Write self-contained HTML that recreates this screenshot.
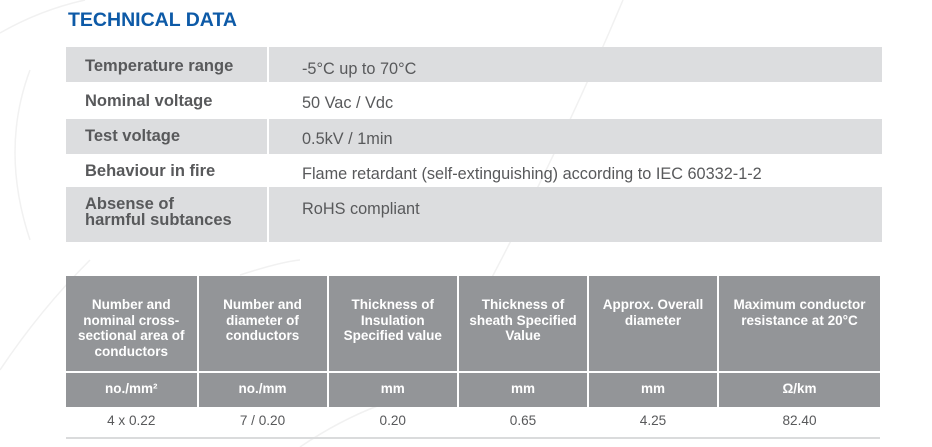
<!DOCTYPE html>
<html>
<head>
<meta charset="utf-8">
<style>
  html, body { margin:0; padding:0; }
  body { width:932px; height:447px; position:relative; overflow:hidden; background:#ffffff;
         font-family:"Liberation Sans", sans-serif; }
  .abs { position:absolute; }
  .title { left:68px; top:8px; font-size:19.5px; line-height:24px; font-weight:bold; color:#0d5aa7; white-space:nowrap; }
  .g { background:#dcdddf; }
  .lbl { left:85px; font-size:16.5px; line-height:20px; font-weight:bold; color:#58595b; white-space:nowrap; }
  .val { left:302px; font-size:16.3px; line-height:20px; color:#58595b; white-space:nowrap; }
  .hd { background:#939598; }
  .ht { color:#ffffff; font-weight:bold; font-size:13.5px; line-height:15.6px; text-align:center; white-space:nowrap; }
  .ut { color:#ffffff; font-weight:bold; font-size:13.5px; line-height:35px; text-align:center; white-space:nowrap; }
  .dt { color:#58595b; font-size:13.6px; line-height:20px; text-align:center; white-space:nowrap; }
</style>
</head>
<body>
<svg class="abs" style="left:0;top:0" width="932" height="447">
  <g fill="none" stroke="#f1f1f1" stroke-width="1.5">
    <path d="M0,33 Q40,10 85,0"/>
    <path d="M30,70 Q0,150 30,240"/>
    <path d="M623,0 Q560,150 480,300"/>
    <path d="M90,260 Q40,310 0,370"/>
    <path d="M240,275 Q280,262 300,260"/>
    <path d="M300,447 Q340,420 380,405"/>
  </g>
</svg>

<div class="abs title">TECHNICAL DATA</div>

<!-- top table -->
<div class="abs g" style="left:66px;top:47px;width:201px;height:35px"></div>
<div class="abs g" style="left:269px;top:47px;width:613px;height:35px"></div>
<div class="abs g" style="left:66px;top:119px;width:201px;height:35px"></div>
<div class="abs g" style="left:269px;top:119px;width:613px;height:35px"></div>
<div class="abs g" style="left:66px;top:187px;width:201px;height:55px"></div>
<div class="abs g" style="left:269px;top:187px;width:613px;height:55px"></div>

<div class="abs lbl" style="top:55.5px">Temperature range</div>
<div class="abs lbl" style="top:90.5px">Nominal voltage</div>
<div class="abs lbl" style="top:125.5px">Test voltage</div>
<div class="abs lbl" style="top:161px">Behaviour in fire</div>
<div class="abs lbl" style="top:195.5px;line-height:16.7px">Absense of<br>harmful subtances</div>

<div class="abs val" style="top:58.5px">-5°C up to 70°C</div>
<div class="abs val" style="top:93px">50 Vac / Vdc</div>
<div class="abs val" style="top:128.5px">0.5kV / 1min</div>
<div class="abs val" style="top:163.5px">Flame retardant (self-extinguishing) according to IEC 60332-1-2</div>
<div class="abs val" style="top:198.5px">RoHS compliant</div>

<!-- bottom table -->
<div class="abs hd" style="left:66px;top:276px;width:130.5px;height:94.5px"></div>
<div class="abs hd" style="left:198.5px;top:276px;width:128px;height:94.5px"></div>
<div class="abs hd" style="left:328.5px;top:276px;width:128.5px;height:94.5px"></div>
<div class="abs hd" style="left:459px;top:276px;width:128px;height:94.5px"></div>
<div class="abs hd" style="left:589px;top:276px;width:128px;height:94.5px"></div>
<div class="abs hd" style="left:719px;top:276px;width:161px;height:94.5px"></div>

<div class="abs hd" style="left:66px;top:372.5px;width:130.5px;height:34.5px"></div>
<div class="abs hd" style="left:198.5px;top:372.5px;width:128px;height:34.5px"></div>
<div class="abs hd" style="left:328.5px;top:372.5px;width:128.5px;height:34.5px"></div>
<div class="abs hd" style="left:459px;top:372.5px;width:128px;height:34.5px"></div>
<div class="abs hd" style="left:589px;top:372.5px;width:128px;height:34.5px"></div>
<div class="abs hd" style="left:719px;top:372.5px;width:161px;height:34.5px"></div>

<div class="abs ht" style="left:66px;top:297px;width:130.5px">Number and<br>nominal cross-<br>sectional area of<br>conductors</div>
<div class="abs ht" style="left:198.5px;top:297px;width:128px">Number and<br>diameter of<br>conductors</div>
<div class="abs ht" style="left:328.5px;top:297px;width:128.5px">Thickness of<br>Insulation<br>Specified value</div>
<div class="abs ht" style="left:459px;top:297px;width:128px">Thickness of<br>sheath Specified<br>Value</div>
<div class="abs ht" style="left:589px;top:297px;width:128px">Approx. Overall<br>diameter</div>
<div class="abs ht" style="left:719px;top:297px;width:161px">Maximum conductor<br>resistance at 20°C</div>

<div class="abs ut" style="left:66px;top:371px;width:130.5px">no./mm²</div>
<div class="abs ut" style="left:198.5px;top:371px;width:128px">no./mm</div>
<div class="abs ut" style="left:328.5px;top:371px;width:128.5px">mm</div>
<div class="abs ut" style="left:459px;top:371px;width:128px">mm</div>
<div class="abs ut" style="left:589px;top:371px;width:128px">mm</div>
<div class="abs ut" style="left:719px;top:371px;width:161px">Ω/km</div>

<div class="abs dt" style="left:66px;top:411px;width:130.5px">4 x 0.22</div>
<div class="abs dt" style="left:198.5px;top:411px;width:128px">7 / 0.20</div>
<div class="abs dt" style="left:328.5px;top:411px;width:128.5px">0.20</div>
<div class="abs dt" style="left:459px;top:411px;width:128px">0.65</div>
<div class="abs dt" style="left:589px;top:411px;width:128px">4.25</div>
<div class="abs dt" style="left:719px;top:411px;width:161px">82.40</div>

<div class="abs" style="left:66px;top:437px;width:814px;height:2px;background:#dadbdc"></div>
</body>
</html>
